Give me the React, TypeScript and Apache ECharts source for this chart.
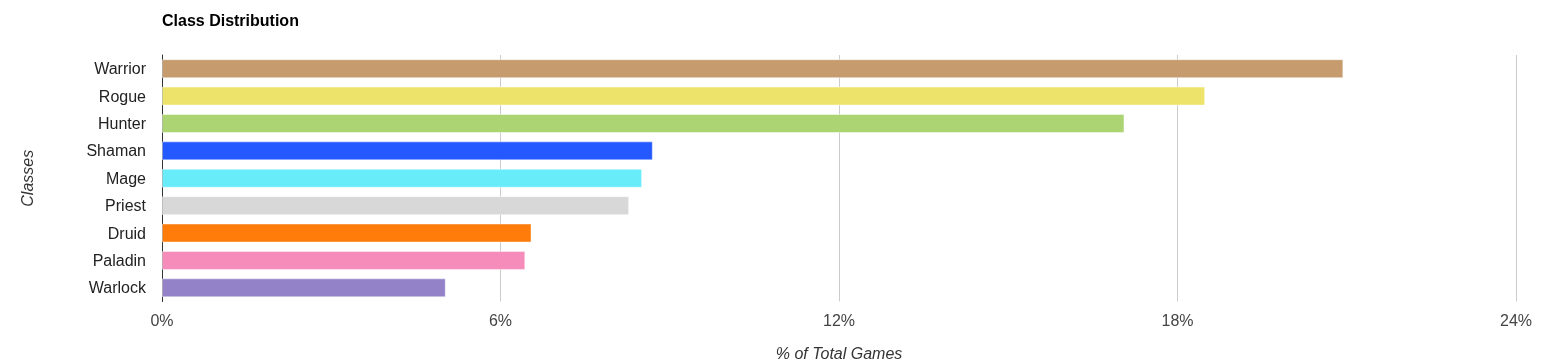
import React, { useEffect, useRef } from "react";
import * as echarts from "echarts";

const classes = ["Warrior", "Rogue", "Hunter", "Shaman", "Mage", "Priest", "Druid", "Paladin", "Warlock"];
const shares = [20.94, 18.49, 17.06, 8.70, 8.51, 8.28, 6.55, 6.44, 5.03];
const classColors = ["#C69B6D", "#EEE36A", "#ACD473", "#2459FF", "#68ECFA", "#D8D8D8", "#FF7C0A", "#F58CBA", "#9482C9"];
const xTicks = { min: 0, max: 24, interval: 6 };

export default function App() {
  const ref = useRef<HTMLDivElement>(null);
  useEffect(() => {
    if (!ref.current) return;
    const chart = echarts.init(ref.current, null, { renderer: "svg" });
    chart.setOption({
      animation: false,
      textStyle: { fontFamily: "Liberation Sans, Arial, sans-serif" },
      title: {
        text: "Class Distribution",
        left: 157,
        top: 7,
        textStyle: { fontSize: 16, fontWeight: "bold", color: "#000", fontFamily: "Liberation Sans, Arial, sans-serif" },
      },
      grid: { left: 162, right: 33, top: 55, bottom: 62.5, containLabel: false, outerBoundsMode: "none" },
      xAxis: {
        type: "value",
        min: xTicks.min,
        max: xTicks.max,
        interval: xTicks.interval,
        name: "% of Total Games",
        nameLocation: "middle",
        nameGap: 44,
        nameTextStyle: { fontStyle: "italic", fontSize: 16, color: "#333" },
        axisLine: { show: false },
        axisTick: { show: false },
        axisLabel: { formatter: "{value}%", fontSize: 16, color: "#444", margin: 11 },
        splitLine: { lineStyle: { color: "#cccccc", width: 1 } },
      },
      yAxis: {
        type: "category",
        data: classes,
        inverse: true,
        name: "Classes",
        nameLocation: "middle",
        nameGap: 127,
        nameRotate: 90,
        nameTextStyle: { fontStyle: "italic", fontSize: 16, color: "#333" },
        axisLine: { show: true, lineStyle: { color: "#333", width: 1 } },
        axisTick: { show: false },
        axisLabel: { fontSize: 16, color: "#222", margin: 16 },
      },
      series: [
        {
          type: "bar",
          barWidth: 19,
          data: shares.map((v, i) => ({
            value: v,
            itemStyle: { color: classColors[i], borderColor: "rgba(255,255,255,0.45)", borderWidth: 1 },
          })),
        },
      ],
    });
    return () => chart.dispose();
  }, []);
  return <div ref={ref} style={{ position: "fixed", left: 0, top: 0, width: 1549, height: 364 }} />;
}
